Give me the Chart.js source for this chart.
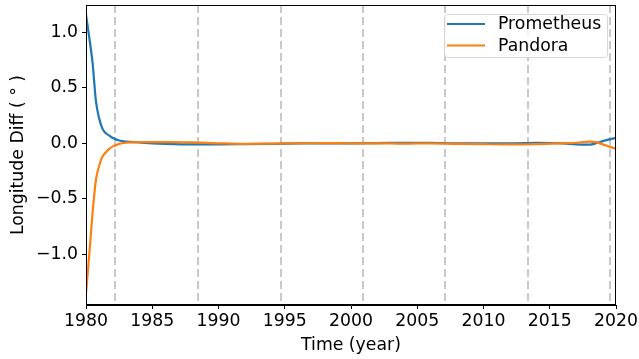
<!DOCTYPE html>
<html>
<head>
<meta charset="utf-8">
<script src="https://cdn.jsdelivr.net/npm/chart.js@4.4.0/dist/chart.umd.min.js"></script>
<style>
  html, body { margin: 0; padding: 0; background: #fff; }
  canvas { display: block; }
</style>
</head>
<body>
<canvas id="chart" width="639" height="359"></canvas>
<script>
const years = [1980, 1980.25, 1980.5, 1980.75, 1981, 1981.25, 1981.5, 1981.75, 1982, 1982.5, 1983, 1984, 1985, 1986, 1988, 1990, 1992, 1994, 1996, 1998, 2000, 2002, 2004, 2006, 2008, 2010, 2012, 2014, 2016, 2017, 2018, 2018.5, 2019, 2019.5, 2020];
const prometheus = [1.16, 0.95, 0.72, 0.38, 0.22, 0.13, 0.09, 0.07, 0.05, 0.025, 0.015, 0.008, 0.0, -0.005, -0.01, -0.01, -0.008, -0.005, 0.0, 0.0, 0.0, 0.002, 0.005, 0.005, 0.0, 0.0, 0.0, 0.005, 0.0, -0.01, -0.012, 0.0, 0.02, 0.035, 0.05];
const pandora = [-1.35, -1.0, -0.62, -0.33, -0.2, -0.12, -0.08, -0.05, -0.03, -0.005, 0.005, 0.01, 0.01, 0.01, 0.008, 0.0, -0.005, -0.003, 0.0, 0.002, 0.0, 0.0, -0.003, 0.0, -0.005, -0.008, -0.01, -0.008, 0.0, 0.005, 0.015, 0.01, -0.01, -0.03, -0.05];
const markerYears = [1982.2, 1988.45, 1994.7, 2000.9, 2007.1, 2013.35, 2019.55];
const yTicks = [1.0, 0.5, 0.0, -0.5, -1.0];
const xTicks = [1980, 1985, 1990, 1995, 2000, 2005, 2010, 2015, 2020];

const FONT = 'DejaVu Sans';
const SIZE = 17.3;

function toPoints(values) {
    return years.map((x, i) => ({ x: x, y: values[i] }));
}

const guideLines = {
    id: 'guideLines',
    beforeDatasetsDraw(chart) {
        const { ctx, chartArea, scales } = chart;
        ctx.save();
        ctx.strokeStyle = '#c4c4c4';
        ctx.lineWidth = 1.8;
        ctx.setLineDash([8, 4]);
        markerYears.forEach(yr => {
            const px = Math.round(scales.x.getPixelForValue(yr));
            ctx.beginPath();
            ctx.moveTo(px, chartArea.top);
            ctx.lineTo(px, chartArea.bottom);
            ctx.stroke();
        });
        ctx.restore();
    },
    afterDraw(chart) {
        const { ctx, chartArea } = chart;
        ctx.save();
        ctx.strokeStyle = '#000';
        ctx.lineWidth = 1;
        ctx.strokeRect(chartArea.left + 0.5, chartArea.top + 0.5,
            chartArea.right - chartArea.left - 1, chartArea.bottom - chartArea.top - 1);

        // legend box inside the plot, upper right
        const x0 = 444, y0 = 14, w = 163, h = 43;
        ctx.fillStyle = 'rgba(255,255,255,0.8)';
        ctx.strokeStyle = '#d6d6d6';
        ctx.lineWidth = 1;
        ctx.beginPath();
        ctx.roundRect(x0 + 0.5, y0 + 0.5, w, h, 3);
        ctx.fill();
        ctx.stroke();
        ctx.font = SIZE + 'px ' + FONT;
        ctx.textBaseline = 'middle';
        chart.data.datasets.forEach((ds, i) => {
            const ly = 24 + i * 21.5;
            ctx.strokeStyle = ds.borderColor;
            ctx.lineWidth = 2.2;
            ctx.beginPath();
            ctx.moveTo(447, ly);
            ctx.lineTo(485, ly);
            ctx.stroke();
            ctx.fillStyle = '#000';
            ctx.fillText(ds.label, 498, ly + 1);
        });
        ctx.restore();
    }
};

new Chart(document.getElementById('chart'), {
    type: 'line',
    data: {
        datasets: [
            {
                label: 'Prometheus',
                data: toPoints(prometheus),
                borderColor: '#1f77b4',
                borderWidth: 2.2,
                pointRadius: 0,
                cubicInterpolationMode: 'monotone',
                order: 1
            },
            {
                label: 'Pandora',
                data: toPoints(pandora),
                borderColor: '#ff7f0e',
                borderWidth: 2.2,
                pointRadius: 0,
                cubicInterpolationMode: 'monotone',
                order: 0
            }
        ]
    },
    options: {
        responsive: false,
        animation: false,
        devicePixelRatio: 1,
        layout: { padding: { left: 0, top: 5, right: 23, bottom: 0 } },
        plugins: {
            legend: { display: false },
            tooltip: { enabled: false }
        },
        scales: {
            x: {
                type: 'linear',
                min: 1980,
                max: 2020,
                afterBuildTicks: scale => { scale.ticks = xTicks.map(v => ({ value: v })); },
                afterFit: scale => {
                    scale.height = 54;
                    scale.paddingLeft = 0;
                    scale.paddingRight = 0;
                },
                grid: { drawOnChartArea: false, drawTicks: true, tickLength: 4, color: '#000' },
                border: { display: true, color: '#000' },
                ticks: {
                    color: '#000',
                    font: { family: FONT, size: SIZE },
                    padding: 2,
                    maxRotation: 0,
                    callback: v => String(v)
                },
                title: {
                    display: true,
                    text: 'Time (year)',
                    color: '#000',
                    font: { family: FONT, size: SIZE },
                    padding: { top: 0, bottom: 3 }
                }
            },
            y: {
                type: 'linear',
                min: -1.457,
                max: 1.246,
                afterBuildTicks: scale => { scale.ticks = yTicks.map(v => ({ value: v })); },
                afterFit: scale => {
                    scale.width = 86;
                    scale.paddingTop = 0;
                    scale.paddingBottom = 0;
                },
                grid: { drawOnChartArea: false, drawTicks: true, tickLength: 4, color: '#000' },
                border: { display: true, color: '#000' },
                ticks: {
                    color: '#000',
                    font: { family: FONT, size: SIZE },
                    padding: 4,
                    callback: v => (v < 0 ? '\u2212' : '') + Math.abs(v).toFixed(1)
                },
                title: {
                    display: true,
                    text: 'Longitude Diff ( \u00b0 )',
                    color: '#000',
                    font: { family: FONT, size: SIZE },
                    padding: { top: 8, bottom: 0 }
                }
            }
        }
    },
    plugins: [guideLines]
});
</script>
</body>
</html>
